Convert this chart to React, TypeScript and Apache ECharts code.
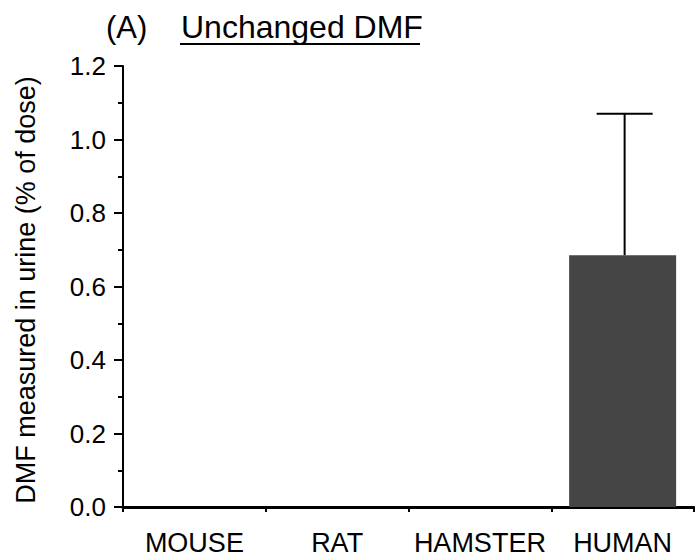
import React, { useEffect, useRef } from "react";
import * as echarts from "echarts";

const categories = ["MOUSE", "RAT", "HAMSTER", "HUMAN"];
const meanValues = [0, 0, 0, 0.685];
const errorUpper = [null, null, null, 1.07];
const yMin = 0;
const yMax = 1.2;
const yInterval = 0.2;
const titleTag = "(A)";
const titleText = "Unchanged DMF";
const yAxisName = "DMF measured in urine (% of dose)";

const FONT = "Liberation Sans, Arial, Helvetica, sans-serif";

export default function App() {
  const ref = useRef<HTMLDivElement>(null);
  useEffect(() => {
    if (!ref.current) return;
    const chart = echarts.init(ref.current, null, { renderer: "svg" });
    const errData = errorUpper
      .map((u, i) => (u == null ? null : [i, meanValues[i], u]))
      .filter((d) => d != null);
    chart.setOption({
      animation: false,
      backgroundColor: "#ffffff",
      grid: { left: 123, right: 1, top: 66, bottom: 51 },
      textStyle: { fontFamily: FONT },
      xAxis: {
        type: "category",
        data: categories,
        boundaryGap: true,
        axisLine: { lineStyle: { color: "#000", width: 3 } },
        axisTick: { show: true, length: 5, lineStyle: { color: "#000", width: 2 } },
        axisLabel: { color: "#000", fontSize: 27, fontFamily: FONT, margin: 22, interval: 0 },
        splitLine: { show: false },
      },
      yAxis: {
        type: "value",
        min: yMin,
        max: yMax,
        interval: yInterval,
        axisLine: { show: true, lineStyle: { color: "#000", width: 2 } },
        axisTick: { show: true, length: 9, lineStyle: { color: "#000", width: 2 } },
        minorTick: { show: true, splitNumber: 2, length: 5, lineStyle: { color: "#000", width: 2 } },
        axisLabel: {
          color: "#000",
          fontSize: 26,
          fontFamily: FONT,
          margin: 17,
          formatter: (v: number) => v.toFixed(1),
        },
        splitLine: { show: false },
      },
      series: [
        {
          type: "bar",
          data: meanValues,
          barWidth: 107,
          itemStyle: { color: "#454545" },
          z: 3,
        },
        {
          type: "custom",
          data: errData,
          z: 2,
          renderItem: (params: any, api: any) => {
            const x = api.value(0);
            const base = api.coord([x, api.value(1)]);
            const top = api.coord([x, api.value(2)]);
            const half = 28;
            const style = { stroke: "#000", lineWidth: 2 };
            return {
              type: "group",
              children: [
                { type: "line", shape: { x1: base[0] + 2, y1: base[1], x2: base[0] + 2, y2: top[1] }, style },
                { type: "line", shape: { x1: base[0] + 2 - half, y1: top[1], x2: base[0] + 2 + half, y2: top[1] }, style },
              ],
            };
          },
        },
      ],
      graphic: [
        {
          type: "text",
          x: 106,
          y: 27,
          style: { text: titleTag, fontSize: 31, fontFamily: FONT, fill: "#000", verticalAlign: "middle" },
        },
        {
          type: "text",
          x: 181,
          y: 27,
          style: { text: titleText, fontSize: 32, fontFamily: FONT, fill: "#000", verticalAlign: "middle" },
        },
        {
          type: "line",
          shape: { x1: 180, y1: 44, x2: 420, y2: 44 },
          style: { stroke: "#000", lineWidth: 2 },
        },
        {
          type: "text",
          x: 26,
          y: 290,
          rotation: Math.PI / 2,
          style: {
            text: yAxisName,
            fontSize: 27,
            fontFamily: FONT,
            fill: "#000",
            align: "center",
            verticalAlign: "middle",
          },
        },
      ],
    });
    return () => chart.dispose();
  }, []);
  return (
    <div
      ref={ref}
      style={{ position: "fixed", left: 0, top: 0, width: 695, height: 558 }}
    />
  );
}
